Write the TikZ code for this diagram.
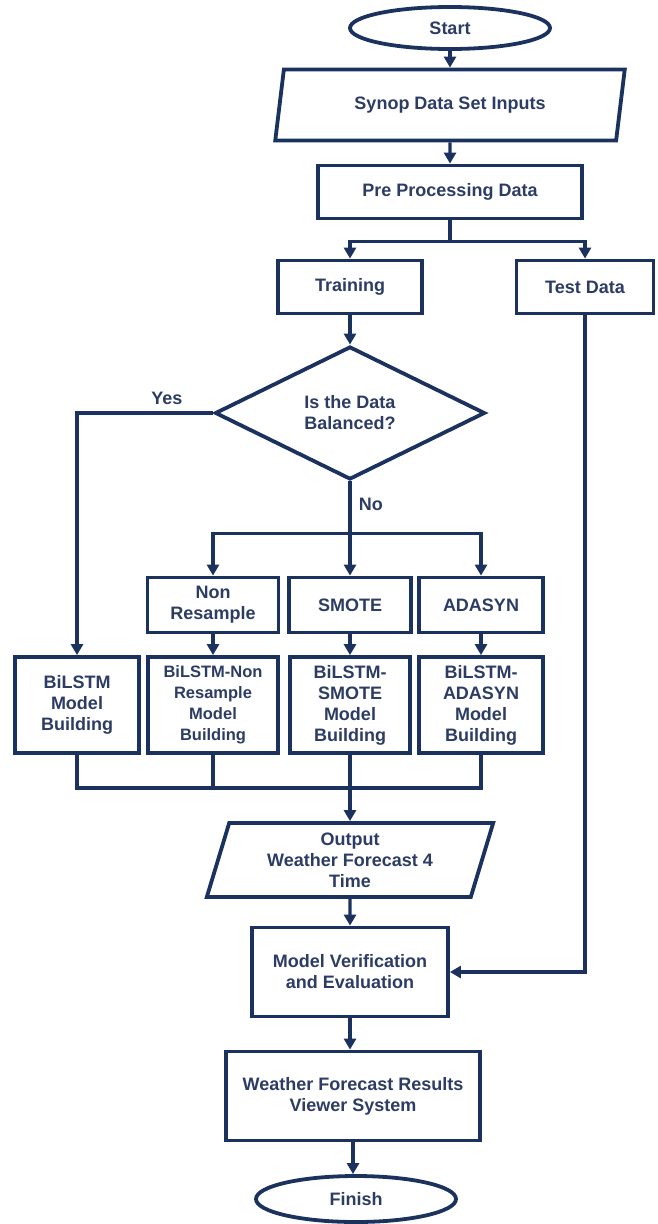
\documentclass[tikz,border=0pt]{standalone}
\usepackage{fontspec}
\setmainfont{Liberation Sans}
\usepackage{tikz}
\usetikzlibrary{arrows.meta,shapes.geometric}
\definecolor{flownavy}{RGB}{27,50,94}
\definecolor{textnavy}{RGB}{44,60,100}

\begin{document}
\begin{tikzpicture}[x=1pt,y=-1pt,
	every node/.style = {font=\bfseries\fontsize{18}{21}\selectfont, text=textnavy, align=center},
	shapebase/.style = {draw=flownavy, line width=3.8pt, fill=white, inner sep=2pt},
	termbox/.style = {shapebase, ellipse, minimum width=200pt, minimum height=42pt},
	iobox/.style = {shapebase, trapezium, trapezium stretches=true},
	procbox/.style = {shapebase, rectangle},
	decbox/.style = {shapebase, diamond, inner sep=0pt, minimum width=270pt, minimum height=133pt},
	line/.style = {draw=flownavy, line width=3.3pt},
	flow/.style = {line, -{Triangle[length=11pt,width=12pt]}}]
				\useasboundingbox (0,0) rectangle (658,1224);
				% nodes
				\node[termbox] (start) at (450,28) {Start};
				\node[iobox, trapezium left angle=76, trapezium right angle=104, minimum width=350pt, minimum height=71pt] (synop) at (450,105) {Synop Data Set Inputs};
				\node[procbox, minimum width=264pt, minimum height=53pt] (prep) at (450,192) {Pre Processing Data};
				\node[procbox, minimum width=144pt, minimum height=53pt] (train) at (350,287) {Training};
				\node[procbox, minimum width=137pt, minimum height=53pt] (test) at (585,287) {Test Data};
				\node[decbox] (balanced) at (350,413) {Is the Data\\Balanced?};
				\node[procbox, minimum width=131pt, minimum height=55pt] (nonres) at (213,605) {Non\\Resample};
				\node[procbox, minimum width=122pt, minimum height=55pt] (smote) at (350,605) {SMOTE};
				\node[procbox, minimum width=124pt, minimum height=55pt] (adasyn) at (481,605) {ADASYN};
				\node[procbox, minimum width=124pt, minimum height=96pt] (bilstm) at (77,705) {BiLSTM\\Model\\Building};
				\node[procbox, minimum width=130pt, minimum height=96pt, font=\bfseries\fontsize{16.5}{21}\selectfont] (bnonres) at (213,705) {BiLSTM-Non\\Resample\\Model\\Building};
				\node[procbox, minimum width=120pt, minimum height=96pt] (bsmote) at (350,705) {BiLSTM-\\SMOTE\\Model\\Building};
				\node[procbox, minimum width=124pt, minimum height=96pt] (badasyn) at (481,705) {BiLSTM-\\ADASYN\\Model\\Building};
				\node[iobox, trapezium left angle=75, trapezium right angle=105, minimum width=287pt, minimum height=74pt] (output) at (350,860) {Output\\Weather Forecast 4\\Time};
				\node[procbox, minimum width=196pt, minimum height=89pt] (verif) at (350,972) {Model Verification\\and Evaluation};
				\node[procbox, minimum width=254pt, minimum height=89pt] (viewer) at (353,1096) {Weather Forecast Results\\Viewer System};
				\node[termbox, minimum height=46pt] (finish) at (356,1199) {Finish};
				% connectors
				\draw[flow] (start) -- (synop);
				\draw[flow] (synop) -- (prep);
				\draw[flow] (prep.south) -- ++(0,21) -| (train);
				\draw[flow] (prep.south) -- ++(0,21) -| (test);
				\draw[flow] (train) -- (balanced);
				\draw[flow] (balanced.west) -| node[pos=0.17, above=3pt] {Yes} (bilstm);
				\draw[flow] (balanced.south) -- node[pos=0.45, right=4pt] {No} ++(0,52) -| (nonres);
				\draw[flow] (balanced.south) -- ++(0,52) -| (adasyn);
				\draw[flow] (balanced) -- (smote);
				\draw[flow] (nonres) -- (bnonres);
				\draw[flow] (smote) -- (bsmote);
				\draw[flow] (adasyn) -- (badasyn);
				\draw[line] (bilstm.south) -- ++(0,33) -| (badasyn.south);
				\draw[line] (bnonres.south) -- ++(0,33);
				\draw[flow] (bsmote) -- (output);
				\draw[flow] (output) -- (verif);
				\draw[flow] (test.south) |- (verif.east);
				\draw[flow] (verif.south) -- (verif.south |- viewer.north);
				\draw[flow] (viewer.south) -- (viewer.south |- finish.north);
\end{tikzpicture}
\end{document}
